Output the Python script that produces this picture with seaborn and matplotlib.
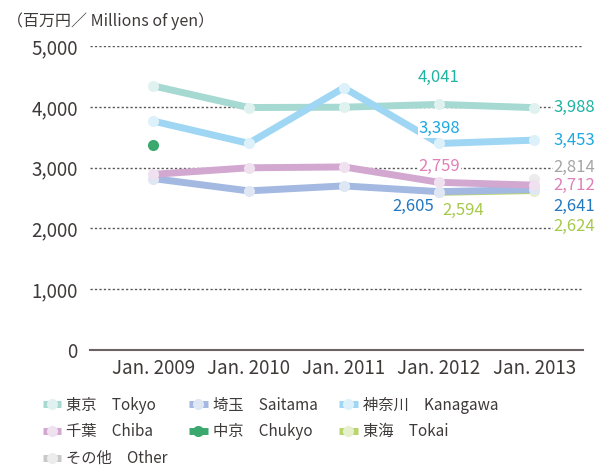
import matplotlib
matplotlib.use('Agg')
import matplotlib.pyplot as plt
import matplotlib.colors as mcolors
import seaborn as sns
import numpy as np
import pandas as pd

sns.set_style('white')
plt.rcParams['font.family'] = ['Noto Sans CJK JP', 'DejaVu Sans']

# data (millions of yen)
years = ['Jan. 2009', 'Jan. 2010', 'Jan. 2011', 'Jan. 2012', 'Jan. 2013']
names = ['その他\u3000Other', '東海\u3000Tokai', '中京\u3000Chukyo', '埼玉\u3000Saitama',
         '千葉\u3000Chiba', '東京\u3000Tokyo', '神奈川\u3000Kanagawa']
tokyo = [4345, 3990, 3995, 4041, 3988]
kanagawa = [3766, 3400, 4315, 3398, 3453]
chukyo = [3372, None, None, None, None]
chiba = [2890, 2998, 3012, 2759, 2712]
saitama = [2820, 2618, 2700, 2605, 2641]
tokai = [None, None, None, 2594, 2624]
other = [None, None, None, None, 2814]
series = [other, tokai, chukyo, saitama, chiba, tokyo, kanagawa]

line_colors = ['#c9c9c9', '#b8d46c', '#3aa86f', '#a3b9e1', '#d2a8d0', '#a5d9d2', '#9ed6f3']
label_colors = ['#a5a5a5', '#a6c94a', '#3aa86f', '#2378c0', '#df80b6', '#1fb3a1', '#1ea8e0']

fig = plt.figure(figsize=(5.97, 4.66), dpi=100)
ax = fig.add_axes([0.151, 0.249, 0.826, 0.652])

for name, vals, col in zip(names, series, line_colors):
    d = pd.DataFrame({'x': np.arange(len(years)), 'y': vals}).dropna()
    light = mcolors.to_hex(np.array(mcolors.to_rgb(col)) * 0.35 + 0.65)
    if name.startswith('中京'):
        light = col
    sns.lineplot(data=d, x='x', y='y', ax=ax, color=col, lw=5, marker='o', ms=8,
                 mfc=light, mec='none', label=name, solid_capstyle='butt')

# value labels: (series index, year index, text, dx px, dy px, ha)
labels = [
    (5, 3, '4,041', 0, 27, 'center'),
    (5, 4, '3,988', 19, 0, 'left'),
    (6, 3, '3,398', 0, 15, 'center'),
    (6, 4, '3,453', 19, 0, 'left'),
    (4, 3, '2,759', 0, 16, 'center'),
    (0, 4, '2,814', 19, 12, 'left'),
    (4, 4, '2,712', 19, 0, 'left'),
    (3, 3, '2,605', -5, -15, 'right'),
    (1, 3, '2,594', 3, -18, 'left'),
    (3, 4, '2,641', 19, -17, 'left'),
    (1, 4, '2,624', 19, -36, 'left'),
]
for si, xi, txt, dx, dy, ha in labels:
    ax.annotate(txt, xy=(xi, series[si][xi]), xytext=(dx, dy), textcoords='offset pixels',
                ha=ha, va='center', fontsize=12, color=label_colors[si],
                bbox=dict(fc='white', ec='none', pad=0.5), zorder=5)

ax.set_xlim(-0.665, 4.515)
ax.set_ylim(0, 5000)
ax.set_yticks(range(0, 5001, 1000))
ax.set_yticklabels([f'{v:,}' for v in range(0, 5001, 1000)])
ax.set_xticks(range(len(years)))
ax.set_xticklabels(years)
ax.tick_params(axis='y', length=0, pad=9, labelsize=13.5, labelcolor='#3e3a39')
ax.tick_params(axis='x', length=0, pad=6, labelsize=13.5, labelcolor='#3e3a39')
ax.set_xlabel('')
ax.set_ylabel('')
for v in range(1000, 5001, 1000):
    ax.axhline(v, color='#595757', lw=1, ls=(0, (1.6, 1.6)), zorder=0)
for s in ['top', 'right', 'left']:
    ax.spines[s].set_visible(False)
ax.spines['bottom'].set_color('#6b6361')
ax.spines['bottom'].set_linewidth(1.5)

fig.text(0.012, 0.955, '（百万円／ Millions of yen）', fontsize=11.5, color='#3e3a39', va='center')

h, l = ax.get_legend_handles_labels()
order = [5, 4, 0, 3, 2, 6, 1]
ax.legend([h[i] for i in order], [l[i] for i in order], ncol=3, loc='upper left',
          bbox_to_anchor=(-0.124, -0.108), frameon=False, fontsize=11, handlelength=1.2,
          handletextpad=0.35, columnspacing=1.4, labelspacing=0.64, labelcolor='#3e3a39')

fig.savefig('out.png', dpi=100)
